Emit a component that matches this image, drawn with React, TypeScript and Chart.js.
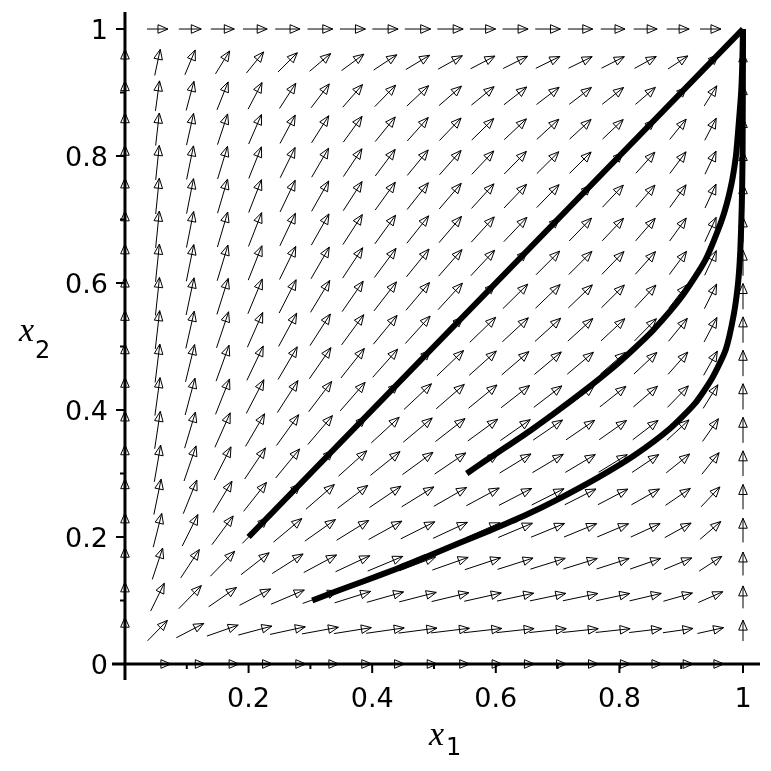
import React, { useEffect, useRef } from "react";
import { Chart, registerables } from "chart.js";

Chart.register(...registerables);

// Grid of the direction field (20 x 20 points on [0,1] x [0,1])
const gridValues = [0, 0.0526, 0.1053, 0.1579, 0.2105, 0.2632, 0.3158, 0.3684, 0.4211, 0.4737, 0.5263, 0.5789, 0.6316, 0.6842, 0.7368, 0.7895, 0.8421, 0.8947, 0.9474, 1];
// Per-grid-value factors of the field: own growth x(1-x) and cross factor
const growthFactor = [0, 0.0499, 0.0942, 0.133, 0.1662, 0.1939, 0.2161, 0.2327, 0.2438, 0.2493, 0.2493, 0.2438, 0.2327, 0.2161, 0.1939, 0.1662, 0.133, 0.0942, 0.0499, 0];
const crossFactor = [1, 0.956, 0.912, 0.868, 0.824, 0.78, 0.736, 0.692, 0.648, 0.604, 0.56, 0.515, 0.471, 0.427, 0.383, 0.339, 0.295, 0.251, 0.207, 0.163];

// Trajectories
const diagX1 = [0.2, 1];
const diagX2 = [0.2, 1];
const midX1 = [0.553, 0.583, 0.614, 0.655, 0.695, 0.74, 0.785, 0.822, 0.855, 0.902, 0.939, 0.966, 0.98, 0.9885, 0.993, 0.997, 0.999, 1];
const midX2 = [0.3, 0.32, 0.34, 0.367, 0.395, 0.428, 0.463, 0.495, 0.526, 0.58, 0.636, 0.7, 0.75, 0.8, 0.85, 0.9, 0.95, 1];
const lowX1 = [0.303, 0.343, 0.385, 0.44, 0.488, 0.54, 0.59, 0.645, 0.698, 0.768, 0.825, 0.881, 0.922, 0.95, 0.972, 0.985, 0.992, 0.9956, 0.998, 0.9993, 1];
const lowX2 = [0.1, 0.115, 0.13, 0.15, 0.169, 0.19, 0.21, 0.233, 0.258, 0.295, 0.329, 0.37, 0.41, 0.45, 0.495, 0.55, 0.6, 0.65, 0.72, 0.8, 1];

// Axis ticks
const majorTicks = [0.2, 0.4, 0.6, 0.8, 1];
const majorTickLabels = ["0.2", "0.4", "0.6", "0.8", "1"];
const minorTicks = [0.1, 0.3, 0.5, 0.7, 0.9];

const pts = (xs: number[], ys: number[]) => xs.map((x, i) => ({ x, y: ys[i] }));

const fieldPlugin = {
  id: "fieldPlugin",
  beforeDraw(chart: any) {
    const ctx = chart.ctx;
    ctx.save();
    ctx.fillStyle = "#fff";
    ctx.fillRect(0, 0, chart.width, chart.height);
    ctx.restore();
  },
  beforeDatasetsDraw(chart: any) {
    const ctx: CanvasRenderingContext2D = chart.ctx;
    const xs = chart.scales.x;
    const ys = chart.scales.y;
    const { left, right, top, bottom } = chart.chartArea;
    const x0 = xs.getPixelForValue(0);
    const y0 = ys.getPixelForValue(0);
    ctx.save();
    ctx.strokeStyle = "#000";
    ctx.fillStyle = "#000";

    // direction field arrows
    const sx = xs.getPixelForValue(1) - x0;
    const sy = y0 - ys.getPixelForValue(1);
    ctx.lineWidth = 1;
    for (let i = 0; i < gridValues.length; i++) {
      for (let j = 0; j < gridValues.length; j++) {
        const vx = growthFactor[i] * crossFactor[j];
        const vy = growthFactor[j] * crossFactor[i];
        const m = Math.hypot(vx, vy);
        if (m === 0) continue;
        const L = 17 + 44 * Math.sqrt(m);
        let ux = vx * sx;
        let uy = -vy * sy;
        const n = Math.hypot(ux, uy);
        ux /= n;
        uy /= n;
        const cx = xs.getPixelForValue(gridValues[i]);
        const cy = ys.getPixelForValue(gridValues[j]);
        const tx = cx - (ux * L) / 2;
        const ty = cy - (uy * L) / 2;
        const hx = cx + (ux * L) / 2;
        const hy = cy + (uy * L) / 2;
        ctx.beginPath();
        ctx.moveTo(tx, ty);
        ctx.lineTo(hx, hy);
        ctx.stroke();
        const hl = 10;
        const hw = 4.3;
        const bx = hx - ux * hl;
        const by = hy - uy * hl;
        ctx.beginPath();
        ctx.moveTo(hx, hy);
        ctx.lineTo(bx - uy * hw, by + ux * hw);
        ctx.lineTo(bx + uy * hw, by - ux * hw);
        ctx.closePath();
        ctx.stroke();
      }
    }

    // axes
    ctx.lineWidth = 3;
    ctx.beginPath();
    ctx.moveTo(left, y0);
    ctx.lineTo(right, y0);
    ctx.moveTo(x0, top);
    ctx.lineTo(x0, bottom);
    ctx.stroke();

    // ticks
    ctx.lineWidth = 2;
    ctx.beginPath();
    majorTicks.forEach((t) => {
      const px = xs.getPixelForValue(t);
      ctx.moveTo(px, y0);
      ctx.lineTo(px, y0 + 9);
      const py = ys.getPixelForValue(t);
      ctx.moveTo(x0, py);
      ctx.lineTo(x0 - 9, py);
    });
    minorTicks.forEach((t) => {
      const px = xs.getPixelForValue(t);
      ctx.moveTo(px, y0);
      ctx.lineTo(px, y0 + 5);
      const py = ys.getPixelForValue(t);
      ctx.moveTo(x0, py);
      ctx.lineTo(x0 - 5, py);
    });
    ctx.stroke();

    // tick labels
    ctx.font = '27px "DejaVu Sans"';
    ctx.textBaseline = "alphabetic";
    ctx.textAlign = "center";
    majorTicks.forEach((t, k) => {
      ctx.fillText(majorTickLabels[k], xs.getPixelForValue(t), y0 + 43);
    });
    ctx.textAlign = "right";
    majorTicks.forEach((t, k) => {
      ctx.fillText(majorTickLabels[k], x0 - 17, ys.getPixelForValue(t) + 10);
    });
    ctx.fillText("0", x0 - 17, y0 + 10);

    // axis titles
    ctx.textAlign = "left";
    ctx.font = 'italic 34px "Liberation Serif"';
    ctx.fillText("x", 429, 745);
    ctx.fillText("x", 19, 341);
    ctx.font = '24px "DejaVu Sans"';
    ctx.fillText("1", 446, 755);
    ctx.fillText("2", 35, 358);
    ctx.restore();
  },
};

export default function App() {
  const ref = useRef<HTMLCanvasElement>(null);
  useEffect(() => {
    if (!ref.current) return;
    const lineDs = (data: any) => ({
      data,
      showLine: true,
      borderColor: "#000",
      borderWidth: 6,
      pointRadius: 0,
      tension: 0.2,
      borderCapStyle: "butt",
      borderJoinStyle: "round",
      fill: false,
    });
    const chart = new Chart(ref.current, {
      type: "scatter",
      data: {
        datasets: [
          lineDs(pts(diagX1, diagX2)),
          lineDs(pts(midX1, midX2)),
          lineDs(pts(lowX1, lowX2)),
        ],
      },
      options: {
        animation: false,
        responsive: false,
        devicePixelRatio: 1,
        layout: { padding: { left: 112, right: 11, top: 12, bottom: 91 } },
        plugins: { legend: { display: false }, tooltip: { enabled: false } },
        scales: {
          x: { type: "linear", min: -0.021, max: 1.0275, display: false },
          y: { type: "linear", min: -0.0252, max: 1.0268, display: false },
        },
      } as any,
      plugins: [fieldPlugin],
    });
    return () => chart.destroy();
  }, []);
  return (
    <canvas
      ref={ref}
      width={771}
      height={771}
      style={{ position: "fixed", left: 0, top: 0, width: "771px", height: "771px" }}
    />
  );
}
